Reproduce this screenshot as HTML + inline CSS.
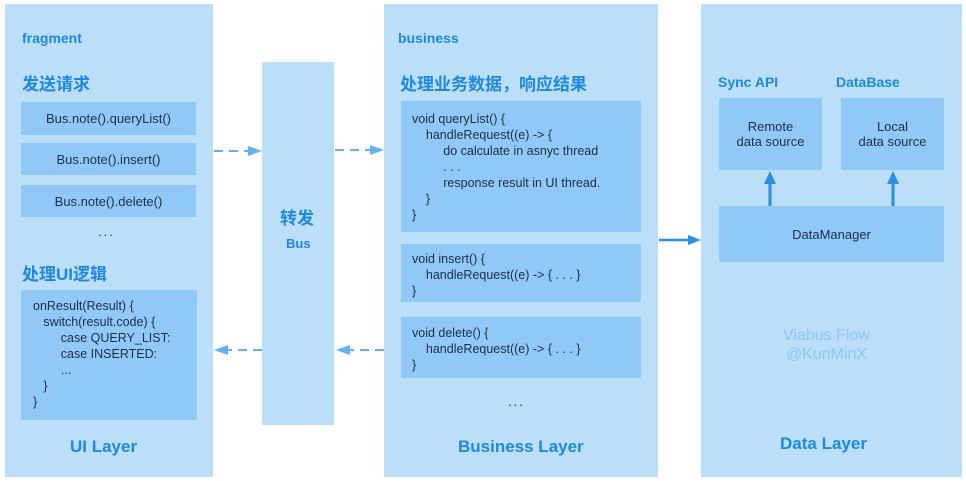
<!DOCTYPE html>
<html><head><meta charset="utf-8"><style>
*{margin:0;padding:0;box-sizing:border-box}
body{width:966px;height:481px;background:#fff;position:relative;overflow:hidden;font-family:"Liberation Sans","Noto Sans CJK SC",sans-serif}
.p{position:absolute;background:#bbdef9}
.b{position:absolute;background:#90c9f7;color:#1d2f4a;font-size:13px}
.t{position:absolute;color:#1e88e5;font-weight:bold;white-space:nowrap}
.c{display:flex;align-items:center;justify-content:center;text-align:center}
.code{position:absolute;font-size:12.5px;line-height:16px;color:#1d2f4a;white-space:pre}
.d{position:absolute;color:#1d2f4a;font-size:13px;letter-spacing:2px}
</style></head><body>
<div class="p" style="left:5px;top:4px;width:208px;height:473px"></div>
<div class="p" style="left:262px;top:62px;width:72px;height:363px"></div>
<div class="p" style="left:384px;top:4px;width:274px;height:473px"></div>
<div class="p" style="left:701px;top:4px;width:261px;height:473px"></div>

<div class="t" style="left:22px;top:30px;font-size:14px">fragment</div>
<div class="t" style="left:22px;top:70px;font-size:17px">发送请求</div>
<div class="b c" style="left:21px;top:102px;width:175px;height:33px">Bus.note().queryList()</div>
<div class="b c" style="left:21px;top:143px;width:175px;height:32px">Bus.note().insert()</div>
<div class="b c" style="left:21px;top:185px;width:175px;height:32px">Bus.note().delete()</div>
<div class="d" style="left:98px;top:224px">...</div>
<div class="t" style="left:22px;top:260px;font-size:17px">处理UI逻辑</div>
<div class="b" style="left:21px;top:290px;width:176px;height:130px"></div>
<div class="code" style="left:33px;top:298px">onResult(Result) {
   switch(result.code) {
        case QUERY_LIST:
        case INSERTED:
        ...
   }
}</div>
<div class="t" style="left:70px;top:437px;font-size:17px">UI Layer</div>

<div class="t" style="left:280px;top:204px;font-size:17px">转发</div>
<div class="t" style="left:286px;top:236px;font-size:13px">Bus</div>

<div class="t" style="left:398px;top:30px;font-size:14px">business</div>
<div class="t" style="left:400px;top:70px;font-size:17px">处理业务数据，响应结果</div>
<div class="b" style="left:401px;top:101px;width:240px;height:131px"></div>
<div class="code" style="left:412px;top:111px">void queryList() {
    handleRequest((e) -&gt; {
         do calculate in asnyc thread
         . . .
         response result in UI thread.
    }
}</div>
<div class="b" style="left:401px;top:244px;width:240px;height:58px"></div>
<div class="code" style="left:412px;top:251px">void insert() {
    handleRequest((e) -&gt; { . . . }
}</div>
<div class="b" style="left:401px;top:317px;width:240px;height:61px"></div>
<div class="code" style="left:412px;top:325px">void delete() {
    handleRequest((e) -&gt; { . . . }
}</div>
<div class="d" style="left:508px;top:394px">...</div>
<div class="t" style="left:458px;top:437px;font-size:17px">Business Layer</div>

<div class="t" style="left:718px;top:74px;font-size:14px">Sync API</div>
<div class="t" style="left:836px;top:74px;font-size:14px">DataBase</div>
<div class="b c" style="left:719px;top:98px;width:103px;height:72px">Remote<br>data source</div>
<div class="b c" style="left:841px;top:98px;width:103px;height:72px">Local<br>data source</div>
<div class="b c" style="left:719px;top:206px;width:225px;height:56px">DataManager</div>
<div style="position:absolute;left:783px;top:326px;color:#8fc6f3;font-size:16px;text-align:center;line-height:19px">Viabus Flow<br>@KunMinX</div>
<div class="t" style="left:780px;top:434px;font-size:17px">Data Layer</div>

<svg width="966" height="481" style="position:absolute;left:0;top:0">
<g stroke="#64b0f0" stroke-width="2" stroke-dasharray="9,6" fill="none">
<line x1="214" y1="151" x2="250" y2="151"/>
<line x1="335" y1="150" x2="372" y2="150"/>
<line x1="262" y1="350" x2="226" y2="350"/>
<line x1="384" y1="350" x2="348" y2="350"/>
</g>
<g fill="#64b0f0">
<polygon points="262,151 248,146 248,156"/>
<polygon points="384,150 370,145 370,155"/>
<polygon points="214,350 228,345 228,355"/>
<polygon points="336,350 350,345 350,355"/>
</g>
<line x1="659" y1="240" x2="690" y2="240" stroke="#2d8fe6" stroke-width="2.5"/>
<polygon points="701,240 688,235 688,245" fill="#2d8fe6"/>
<line x1="770" y1="206" x2="770" y2="182" stroke="#2d8fe6" stroke-width="3"/>
<polygon points="770,171 764,184 776,184" fill="#2d8fe6"/>
<line x1="893" y1="206" x2="893" y2="182" stroke="#2d8fe6" stroke-width="3"/>
<polygon points="893,171 887,184 899,184" fill="#2d8fe6"/>
</svg>
</body></html>
